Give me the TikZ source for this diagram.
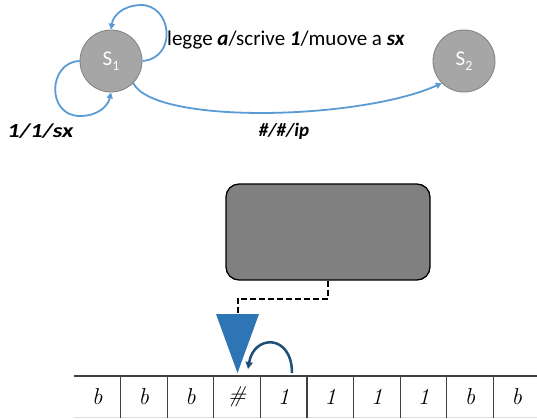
\documentclass[tikz,border=0pt]{standalone}
\usepackage{fontspec}
\setmainfont{Carlito}
\newfontfamily\tapefont{Latin Modern Roman}
\usetikzlibrary{arrows.meta}
\definecolor{stategray}{HTML}{A6A6A6}
\definecolor{stateedge}{HTML}{7F7F7F}
\definecolor{edgeblue}{HTML}{5B9BD5}
\definecolor{headblue}{HTML}{2E75B6}
\definecolor{moveblue}{HTML}{1F4E79}
\definecolor{boxgray}{HTML}{808080}
\definecolor{tapeline}{HTML}{404040}
\tikzset{
  state/.style={circle,minimum size=62pt,inner sep=0pt,fill=stategray,draw=stateedge,line width=0.8pt,
    text=white,font=\fontsize{21}{24}\selectfont},
  trans/.style={draw=edgeblue,line width=1.8pt,-{Triangle[length=6pt,width=6pt]}},
  lbl/.style={inner sep=0pt,font=\fontsize{21}{24}\selectfont},
  cell/.style={inner sep=0pt,font=\tapefont\fontsize{23}{26}\selectfont\itshape},
}
\begin{document}
\begin{tikzpicture}[x=1pt,y=-1pt]
\useasboundingbox[fill=white] (0,0) rectangle (537,418);
% states
\node[state] (s1) at (111,61) {S\raisebox{-0.25em}{\fontsize{14}{16}\selectfont 1}};
\node[state] (s2) at (464,61) {S\raisebox{-0.25em}{\fontsize{14}{16}\selectfont 2}};
% loops
\draw[trans] (s1.east) .. controls (178,58) and (172,4) .. (140,5)
  .. controls (122,6) and (113,16) .. (s1.north);
\draw[trans] (s1.west) .. controls (48,62) and (46,116) .. (80,116)
  .. controls (98,116) and (108,106) .. (s1.south);
\draw[trans] (s1.south east) .. controls (155,125) and (360,120) .. (s2.south west);
% labels
\node[lbl,anchor=west] (l1) at (167,40) {legge \textbf{\textit{a}}/scrive \textbf{\textit{1}}/muove a \textbf{\textit{sx}}};
\node[lbl,font=\fontsize{20}{23}\selectfont,xscale=1.22] (l2) at (40.5,131) {\textbf{\textit{1/1/sx}}};
\node[lbl,font=\fontsize{19}{22}\selectfont] (l3) at (284,131) {\textbf{\textit{\#/\#/ip}}};
% machine box
\node[draw=black,line width=1.3pt,fill=boxgray,rounded corners=13pt,minimum width=204pt,minimum height=96pt,inner sep=0pt] (box) at (328,232) {};
% head
\coordinate (tri) at (237.5,314);
\fill[headblue] (216,314) -- (259,314) -- (237.5,373) -- cycle;
\draw[line width=2pt,dash pattern=on 6pt off 3pt] (box.south) -- ++(0,18) -| (tri);
% move arrow
\coordinate (ms) at (292,373);
\coordinate (me) at (248,369);
\draw[moveblue,line width=2.5pt,-{Triangle[length=7pt,width=7pt]}] (ms) .. controls (292,334) and (254,334) .. (me);
% tape
\draw[tapeline,line width=1.3pt] (74,376) -- (537,376);
\draw[black!12,line width=0.8pt] (74,417.5) -- (537,417.5);
\foreach \k in {1,...,9} {
  \draw[tapeline,line width=1.3pt] ({74+46.6*\k},376) -- ({74+46.6*\k},418);
}
\foreach \s [count=\k from 0] in {b,b,b,\#,1,1,1,1,b,b} {
  \node[cell] (c\k) at ({74+46.6*(\k+0.5)},397) {\s};
}
\end{tikzpicture}
\end{document}
